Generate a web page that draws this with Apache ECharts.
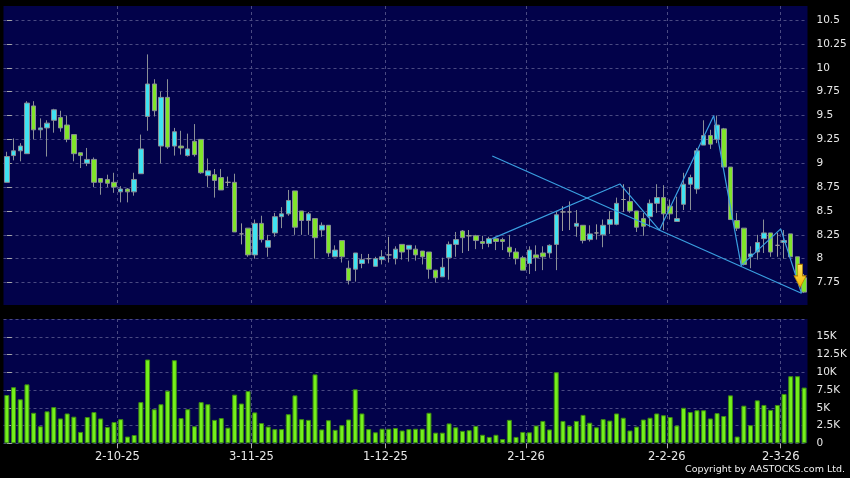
<!DOCTYPE html>
<html><head><meta charset="utf-8">
<script src="https://cdn.jsdelivr.net/npm/echarts@6/dist/echarts.min.js"></script>
<style>html,body{margin:0;padding:0;background:#000;}#c{width:850px;height:478px;}</style>
</head><body><div id="c"></div>
<script>
// ---- data ----
const holidays = ['2025-10-01','2025-10-07','2025-10-29','2025-12-25','2025-12-26','2026-01-01','2026-02-17','2026-02-18','2026-02-19'];
const firstDay = '2025-09-08';
const lastDay = '2026-03-05';

const openP = [8.80,9.08,9.13,9.10,9.60,9.35,9.37,9.45,9.48,9.40,
9.30,9.11,9.00,9.04,8.84,8.83,8.80,8.70,8.73,8.70,
8.89,9.49,9.83,9.18,9.69,9.18,9.18,9.08,9.23,9.25,
8.87,8.88,8.85,8.80,8.80,8.26,8.32,8.04,8.37,8.12,
8.27,8.44,8.47,8.71,8.50,8.40,8.42,8.30,8.35,8.02,
8.19,7.90,7.89,7.95,8.00,7.92,7.99,8.04,8.00,8.15,
8.10,8.10,8.08,8.07,7.88,7.81,8.01,8.15,8.29,8.24,
8.24,8.18,8.16,8.21,8.20,8.12,8.07,8.01,7.95,8.04,
8.06,8.06,8.15,8.49,8.49,8.34,8.35,8.20,8.27,8.25,
8.36,8.36,8.62,8.60,8.50,8.42,8.44,8.58,8.64,8.55,
8.39,8.57,8.78,8.73,9.19,9.29,9.25,9.36,8.96,8.40,
8.32,8.02,8.07,8.21,8.27,8.14,8.17,8.26,8.02,7.80];
const closeP = [9.07,9.13,9.18,9.63,9.35,9.37,9.42,9.56,9.37,9.25,
9.10,9.08,9.04,8.80,8.80,8.79,8.75,8.73,8.70,8.83,
9.15,9.83,9.55,9.69,9.17,9.33,9.16,9.15,9.09,8.90,
8.92,8.82,8.72,8.80,8.28,8.26,8.04,8.37,8.20,8.19,
8.44,8.47,8.61,8.33,8.40,8.47,8.22,8.35,8.06,8.09,
8.02,7.77,8.06,7.99,8.00,8.00,8.02,8.04,8.10,8.07,
8.14,8.04,8.02,7.89,7.80,7.91,8.15,8.20,8.22,8.24,
8.19,8.16,8.21,8.18,8.18,8.07,8.00,7.88,8.09,8.01,
8.02,8.14,8.46,8.49,8.49,8.37,8.19,8.26,8.27,8.35,
8.41,8.58,8.62,8.50,8.33,8.34,8.58,8.64,8.47,8.47,
8.42,8.78,8.85,9.13,9.29,9.20,9.40,8.96,8.41,8.32,
7.94,8.05,8.17,8.27,8.07,8.14,8.19,8.02,7.82,7.65];
const lowP = [8.80,9.03,9.02,9.10,9.25,9.26,9.07,9.32,9.33,9.22,
9.02,8.95,8.97,8.75,8.67,8.75,8.69,8.59,8.59,8.66,
8.89,9.34,9.49,9.00,9.15,9.08,9.09,9.07,9.07,8.89,
8.75,8.64,8.72,8.76,8.28,8.15,8.02,8.00,8.17,8.02,
8.23,8.32,8.45,8.25,8.25,8.25,8.00,8.23,8.02,8.02,
7.96,7.73,7.76,7.90,7.95,7.92,7.94,7.96,7.94,7.99,
7.97,7.98,7.94,7.79,7.75,7.81,7.78,8.02,8.06,8.08,
8.10,8.10,8.12,8.09,8.09,8.02,7.94,7.88,7.84,7.87,
7.88,8.01,7.88,8.29,8.30,8.23,8.16,8.18,8.20,8.12,
8.26,8.35,8.49,8.48,8.28,8.24,8.33,8.48,8.30,8.41,
8.39,8.51,8.51,8.68,9.19,9.15,9.21,8.96,8.41,8.29,
7.93,7.90,7.99,8.06,8.02,8.02,8.00,8.02,7.78,7.64];
const highP = [9.12,9.26,9.21,9.65,9.65,9.47,9.45,9.57,9.55,9.50,
9.30,9.11,9.16,9.06,8.84,8.88,8.90,8.76,8.74,8.90,
9.30,10.14,9.88,9.75,9.88,9.37,9.34,9.31,9.41,9.25,
9.05,8.94,8.94,8.86,8.89,8.37,8.32,8.41,8.45,8.25,
8.48,8.54,8.72,8.71,8.50,8.49,8.42,8.38,8.35,8.14,
8.19,7.98,8.06,8.05,8.05,8.02,8.09,8.23,8.13,8.15,
8.14,8.14,8.08,8.07,7.88,8.01,8.18,8.28,8.30,8.30,
8.25,8.24,8.23,8.23,8.22,8.25,8.11,8.03,8.13,8.14,
8.13,8.15,8.50,8.55,8.60,8.51,8.35,8.35,8.36,8.41,
8.50,8.64,8.78,8.75,8.50,8.48,8.62,8.78,8.77,8.62,
8.65,8.90,8.88,9.16,9.45,9.35,9.50,9.37,8.96,8.48,
8.32,8.13,8.25,8.41,8.27,8.27,8.30,8.26,8.02,7.84];
const volume = [6800,7900,6200,8300,4300,2400,4500,5100,3500,4200,
3750,1600,3700,4400,3500,2300,3000,3400,950,1170,
5800,11800,4800,5500,7400,11700,3550,4800,2400,5800,
5500,3300,3550,2200,6850,5600,7350,4350,2850,2350,
2000,2000,4100,6750,3400,3300,9700,1950,3250,1900,
2550,3350,7600,4200,2000,1550,2050,2050,2150,1800,
2000,2050,2050,4300,1500,1500,2800,2250,1750,1850,
2450,1200,900,1200,600,3300,900,1600,1550,2500,
3150,1950,10000,3150,2450,3150,4000,2900,2250,3400,
3200,4200,3600,1800,2350,3350,3600,4200,3950,3700,
2500,5000,4400,4650,4650,3500,4250,3850,6750,950,
5300,2550,6050,5400,4700,5400,6950,9450,9450,7850];
const priceTicks = [7.75,8,8.25,8.5,8.75,9,9.25,9.5,9.75,10,10.25,10.5];
const dateLabels = ['2-10-25','3-11-25','1-12-25','2-1-26','2-2-26','2-3-26'];
// trend lines: [candle position, price]
const trendDown = [[72.45,9.076],[118.6,7.638]];
const trendZigzag = [[72.45,8.21],[91.5,8.783],[97.4,8.30],[105.5,9.498],[109.6,7.927],[115.5,8.312],[118.6,7.638]];
const arrowPoint = [[118.4,7.82]];

// ---- build ----
function tradingDays(start, end) {
  const out = [];
  const d = new Date(start + 'T00:00:00Z');
  const e = new Date(end + 'T00:00:00Z');
  while (d <= e) {
    const iso = d.toISOString().slice(0, 10);
    const wd = d.getUTCDay();
    if (wd !== 0 && wd !== 6 && holidays.indexOf(iso) < 0) {
      out.push(d.getUTCDate() + '-' + (d.getUTCMonth() + 1) + '-' + String(d.getUTCFullYear()).slice(2));
    }
    d.setUTCDate(d.getUTCDate() + 1);
  }
  return out;
}
const dates = tradingDays(firstDay, lastDay);
const n = dates.length;
const labelPos = dateLabels.map(l => dates.indexOf(l) - 0.5);
const candles = dates.map((_, i) => [openP[i], closeP[i], lowP[i], highP[i]]);

const BG = '#02024a';
const GRID = '#4a4a82';
const TXT = '#e8e8e8';
const FONT = 'DejaVu Sans';
const gridL = 3.5, gridR = 42.5;

const chart = echarts.init(document.getElementById('c'), null, {renderer: 'canvas'});
chart.setOption({
  backgroundColor: '#000',
  animation: false,
  grid: [
    {left: gridL, right: gridR, top: 6, height: 299, show: true, backgroundColor: BG, borderWidth: 0},
    {left: gridL, right: gridR, top: 319, height: 124.3, show: true, backgroundColor: BG, borderWidth: 0}
  ],
  xAxis: [
    {type: 'category', gridIndex: 0, data: dates, boundaryGap: true, show: false},
    {type: 'value', gridIndex: 0, min: -0.5, max: n - 0.5, position: 'bottom',
     axisLine: {show: false}, axisLabel: {show: false},
     axisTick: {show: false, customValues: labelPos},
     splitLine: {show: true, lineStyle: {color: GRID, type: [3, 3], width: 1}}},
    {type: 'category', gridIndex: 1, data: dates, boundaryGap: true, show: false},
    {type: 'value', gridIndex: 1, min: -0.5, max: n - 0.5, position: 'bottom',
     axisLine: {show: false},
     axisTick: {show: true, length: 5, lineStyle: {color: '#aaa'}, customValues: labelPos},
     axisLabel: {show: true, color: TXT, fontFamily: FONT, fontSize: 11.5, margin: 8, customValues: labelPos,
       formatter: v => dateLabels[labelPos.indexOf(v)] || ''},
     splitLine: {show: true, lineStyle: {color: GRID, type: [3, 3], width: 1}}}
  ],
  yAxis: [
    {type: 'value', gridIndex: 0, position: 'right', min: 7.515, max: 10.647, scale: true,
     axisLine: {show: false},
     axisTick: {show: true, length: 5, lineStyle: {color: '#aaa'}, customValues: priceTicks},
     axisLabel: {color: TXT, fontFamily: FONT, fontSize: 10.5, margin: 9, customValues: priceTicks,
       formatter: v => String(v)},
     splitLine: {show: true, lineStyle: {color: GRID, type: [3, 3], width: 1}}},
    {type: 'value', gridIndex: 1, position: 'right', min: 0, max: 17500, interval: 2500,
     axisLine: {show: false},
     axisTick: {show: true, length: 5, lineStyle: {color: '#aaa'}},
     axisLabel: {color: TXT, fontFamily: FONT, fontSize: 10.5, margin: 9, showMaxLabel: false,
       formatter: v => v === 0 ? '0' : (v / 1000) + 'K'},
     splitLine: {show: true, lineStyle: {color: GRID, type: [3, 3], width: 1}}}
  ],
  series: [
    {type: 'candlestick', xAxisIndex: 0, yAxisIndex: 0, data: candles, barWidth: 5, z: 2,
     itemStyle: {color: '#3fe3f2', color0: '#80e52a', borderColor: '#8a8f96', borderColor0: '#8a8f96',
       borderColorDoji: '#9a9a9a', borderWidth: 1}},
    {type: 'line', xAxisIndex: 1, yAxisIndex: 0, data: trendDown, showSymbol: false, symbol: 'none',
     lineStyle: {color: '#3a9fe0', width: 1.2}, z: 5, silent: true},
    {type: 'line', xAxisIndex: 1, yAxisIndex: 0, data: trendZigzag, showSymbol: false, symbol: 'none',
     lineStyle: {color: '#3a9fe0', width: 1.2}, z: 5, silent: true},
    {type: 'scatter', xAxisIndex: 1, yAxisIndex: 0, data: arrowPoint, z: 10, silent: true, clip: false,
     symbol: 'path://M3,0 L7,0 L7,6 L10,6 L5,12 L0,6 L3,6 Z', symbolSize: [12, 23], symbolKeepAspect: false,
     itemStyle: {opacity: 1, color: new echarts.graphic.LinearGradient(0, 0, 0, 1, [
       {offset: 0, color: '#ffe860'}, {offset: 1, color: '#f2b000'}]),
       borderColor: '#b88000', borderWidth: 0.8}},
    {type: 'bar', xAxisIndex: 2, yAxisIndex: 1, data: volume, barWidth: 5,
     itemStyle: {color: '#74f01c', borderColor: '#3d8a12', borderWidth: 1}}
  ],
  graphic: [
    {type: 'text', right: 5, top: 465, style: {text: 'Copyright by AASTOCKS.com Ltd.', fill: '#f0f0f0',
      font: '9.5px "DejaVu Sans"'}}
  ]
});
</script>
</body></html>
